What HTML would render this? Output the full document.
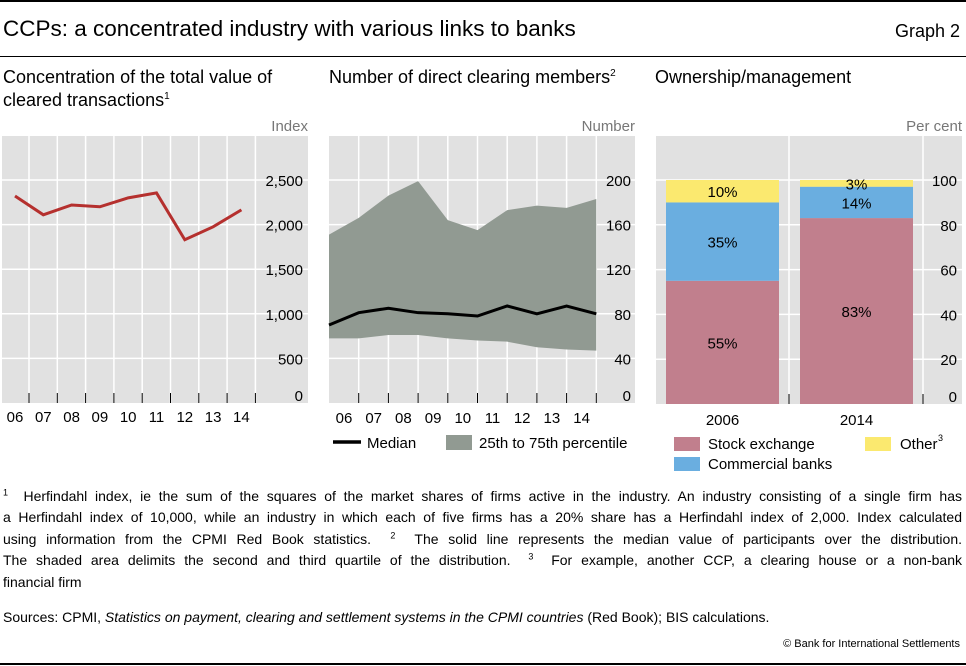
<!DOCTYPE html>
<html><head><meta charset="utf-8"><style>
body{margin:0;width:966px;height:666px;background:#fff;position:relative;overflow:hidden;font-family:"Liberation Sans",sans-serif;color:#000}
.a{position:absolute;white-space:nowrap}
.fn{position:absolute;left:3px;width:959px;font-size:14px;line-height:21.4px}
.fn div{white-space:nowrap;text-align:justify;text-align-last:justify}
.fn div.last{text-align-last:left}
sup{line-height:0;vertical-align:super}
svg text{font-family:"Liberation Sans",sans-serif}
</style></head><body>
<div class="a" style="left:0;top:0;width:966px;height:2px;background:#000"></div>
<div class="a" style="left:3px;top:16px;font-size:22.5px">CCPs: a concentrated industry with various links to banks</div>
<div class="a" style="right:6px;top:21px;font-size:18px">Graph 2</div>
<div class="a" style="left:0;top:56px;width:966px;height:1px;background:#000"></div>
<div class="a" style="left:3px;top:66px;font-size:18px;line-height:23px">Concentration of the total value of<br>cleared transactions<sup style="font-size:10px">1</sup></div>
<div class="a" style="left:329px;top:66px;font-size:18px;line-height:23px">Number of direct clearing members<sup style="font-size:10px">2</sup></div>
<div class="a" style="left:655px;top:66px;font-size:18px;line-height:23px">Ownership/management</div>

<svg id="svg" width="966" height="666" style="position:absolute;left:0;top:0"></svg>

<div class="fn" style="top:486px">
<div><sup style="font-size:9px">1</sup>&nbsp; Herfindahl index, ie the sum of the squares of the market shares of firms active in the industry. An industry consisting of a single firm has</div>
<div>a Herfindahl index of 10,000, while an industry in which each of five firms has a 20% share has a Herfindahl index of 2,000. Index calculated</div>
<div>using information from the CPMI Red Book statistics. &nbsp;<sup style="font-size:9px">2</sup>&nbsp; The solid line represents the median value of participants over the distribution.</div>
<div>The shaded area delimits the second and third quartile of the distribution. &nbsp;<sup style="font-size:9px">3</sup>&nbsp; For example, another CCP, a clearing house or a non-bank</div>
<div class="last">financial firm</div>
</div>
<div class="a" style="left:3px;top:609px;font-size:14px">Sources: CPMI, <i>Statistics on payment, clearing and settlement systems in the CPMI countries</i> (Red Book); BIS calculations.</div>
<div class="a" style="right:6px;top:638px;font-size:11px">© Bank for International Settlements</div>
<div class="a" style="left:0;top:663px;width:966px;height:2px;background:#000"></div>

<script>
const years=['06','07','08','09','10','11','12','13','14'];
const herf=[2320,2110,2220,2200,2300,2355,1830,1975,2165];
const herfTicks=[0,500,1000,1500,2000,2500];
const p75=[151,166,186,199,164,155,173,177,175,183];
const p25=[58,58,61,61,58,56,55,50,48,47];
const median=[70,81,85,81,80,78,87,80,87,80];
const memTicks=[0,40,80,120,160,200];
const barYears=['2006','2014'];
const stock=[55,83];
const banks=[35,14];
const other=[10,3];
const pctTicks=[0,20,40,60,80,100];

const NS='http://www.w3.org/2000/svg';
const svg=document.getElementById('svg');
function el(t,a,txt){const e=document.createElementNS(NS,t);for(const k in a)e.setAttribute(k,a[k]);if(txt!==undefined)e.textContent=txt;svg.appendChild(e);return e;}

// ---- panel 1
const p1={l:2,r:308,t:136,b:403};
const y1=v=>p1.b-v/2500*(p1.b-180);
const x1=i=>15+i*28.3;
let e=el('rect',{x:p1.l,y:p1.t,width:p1.r-p1.l,height:p1.b-p1.t,fill:'#e1e1e1'});

for(let i=0;i<9;i++){const x=29+i*28.3;el('line',{x1:x,x2:x,y1:p1.t,y2:p1.b,stroke:'#fff','stroke-width':1.5});el('line',{x1:x,x2:x,y1:393,y2:403,stroke:'#000','stroke-width':1});}
herfTicks.forEach(v=>{if(v>0)el('line',{x1:p1.l,x2:p1.r,y1:y1(v),y2:y1(v),stroke:'#fff','stroke-width':1.5});
 const t=el('text',{x:303,y:y1(v)-(v==0?2:-6),'text-anchor':'end','font-size':15},v.toLocaleString('en-US'));
 });
e=el('text',{x:308,y:131,'text-anchor':'end','font-size':15,fill:'#777'},'Index');
e=el('polyline',{points:herf.map((v,i)=>x1(i)+','+y1(v)).join(' '),fill:'none',stroke:'#b5302e','stroke-width':3});

years.forEach((y,i)=>{const t=el('text',{x:x1(i),y:422,'text-anchor':'middle','font-size':15},y);});

// ---- panel 2
const p2={l:329,r:635,t:136,b:403};
const y2=v=>p2.b-v/200*(p2.b-180);
const x2=i=>329+i*29.7;
e=el('rect',{x:p2.l,y:p2.t,width:p2.r-p2.l,height:p2.b-p2.t,fill:'#e1e1e1'});

for(let i=1;i<10;i++){const x=x2(i);el('line',{x1:x,x2:x,y1:p2.t,y2:p2.b,stroke:'#fff','stroke-width':1.5});}
memTicks.forEach(v=>{if(v>0)el('line',{x1:p2.l,x2:p2.r,y1:y2(v),y2:y2(v),stroke:'#fff','stroke-width':1.5});});
let pts=p75.map((v,i)=>x2(i)+','+y2(v)).concat(p25.map((v,i)=>x2(i)+','+y2(v)).reverse());
e=el('polygon',{points:pts.join(' '),fill:'#919a92'});
for(let i=1;i<10;i++){const x=x2(i);el('line',{x1:x,x2:x,y1:393,y2:403,stroke:'#000','stroke-width':1});}
e=el('polyline',{points:median.map((v,i)=>x2(i)+','+y2(v)).join(' '),fill:'none',stroke:'#000','stroke-width':3});

memTicks.forEach(v=>{const t=el('text',{x:631,y:y2(v)-(v==0?2:-6),'text-anchor':'end','font-size':15},v);});
e=el('text',{x:635,y:131,'text-anchor':'end','font-size':15,fill:'#777'},'Number');
years.forEach((y,i)=>{const t=el('text',{x:x2(i)+15,y:423,'text-anchor':'middle','font-size':15},y);});
el('line',{x1:333,x2:361,y1:442,y2:442,stroke:'#000','stroke-width':3.5});
e=el('text',{x:367,y:448,'font-size':15},'Median');
el('rect',{x:446,y:435,width:26,height:15,fill:'#919a92'});
e=el('text',{x:479,y:448,'font-size':15},'25th to 75th percentile');

// ---- panel 3
const p3={l:656,r:962,t:136,b:404};
const y3=v=>p3.b-v/100*(p3.b-180);
e=el('rect',{x:p3.l,y:p3.t,width:p3.r-p3.l,height:p3.b-p3.t,fill:'#e1e1e1'});

[789,923].forEach(x=>el('line',{x1:x,x2:x,y1:p3.t,y2:p3.b,stroke:'#fff','stroke-width':1.5}));
pctTicks.forEach(v=>{if(v>0)el('line',{x1:p3.l,x2:p3.r,y1:y3(v),y2:y3(v),stroke:'#fff','stroke-width':1.5});});
[789,923].forEach(x=>el('line',{x1:x,x2:x,y1:394,y2:404,stroke:'#000','stroke-width':1}));
const bx=[666,800],bw=113;
barYears.forEach((yr,i)=>{
 const segs=[[stock[i],'#c17f8d','stock'],[banks[i],'#6aaee0','banks'],[other[i],'#fbe96f','other']];
 let base=0;
 segs.forEach(s=>{const r=el('rect',{x:bx[i],y:y3(base+s[0]),width:bw,height:y3(base)-y3(base+s[0]),fill:s[1]});
  
  const cy=(y3(base)+y3(base+s[0]))/2;
  const t=el('text',{x:bx[i]+bw/2,y:cy+6,'text-anchor':'middle','font-size':15},s[0]+'%');
  
  base+=s[0];});
 const t=el('text',{x:bx[i]+bw/2,y:425,'text-anchor':'middle','font-size':15},yr);
});
pctTicks.forEach(v=>{const t=el('text',{x:957,y:y3(v)-(v==0?2:-6),'text-anchor':'end','font-size':15},v);});
e=el('text',{x:962,y:131,'text-anchor':'end','font-size':15,fill:'#777'},'Per cent');
el('rect',{x:674,y:437,width:26,height:14,fill:'#c17f8d'});
e=el('text',{x:708,y:449,'font-size':15},'Stock exchange');
el('rect',{x:674,y:457,width:26,height:14,fill:'#6aaee0'});
e=el('text',{x:708,y:469,'font-size':15},'Commercial banks');
el('rect',{x:865,y:437,width:26,height:14,fill:'#fbe96f'});
e=el('text',{x:900,y:449,'font-size':15},'Other');
el('text',{x:938,y:441,'font-size':9},'3');
</script>
</body></html>
